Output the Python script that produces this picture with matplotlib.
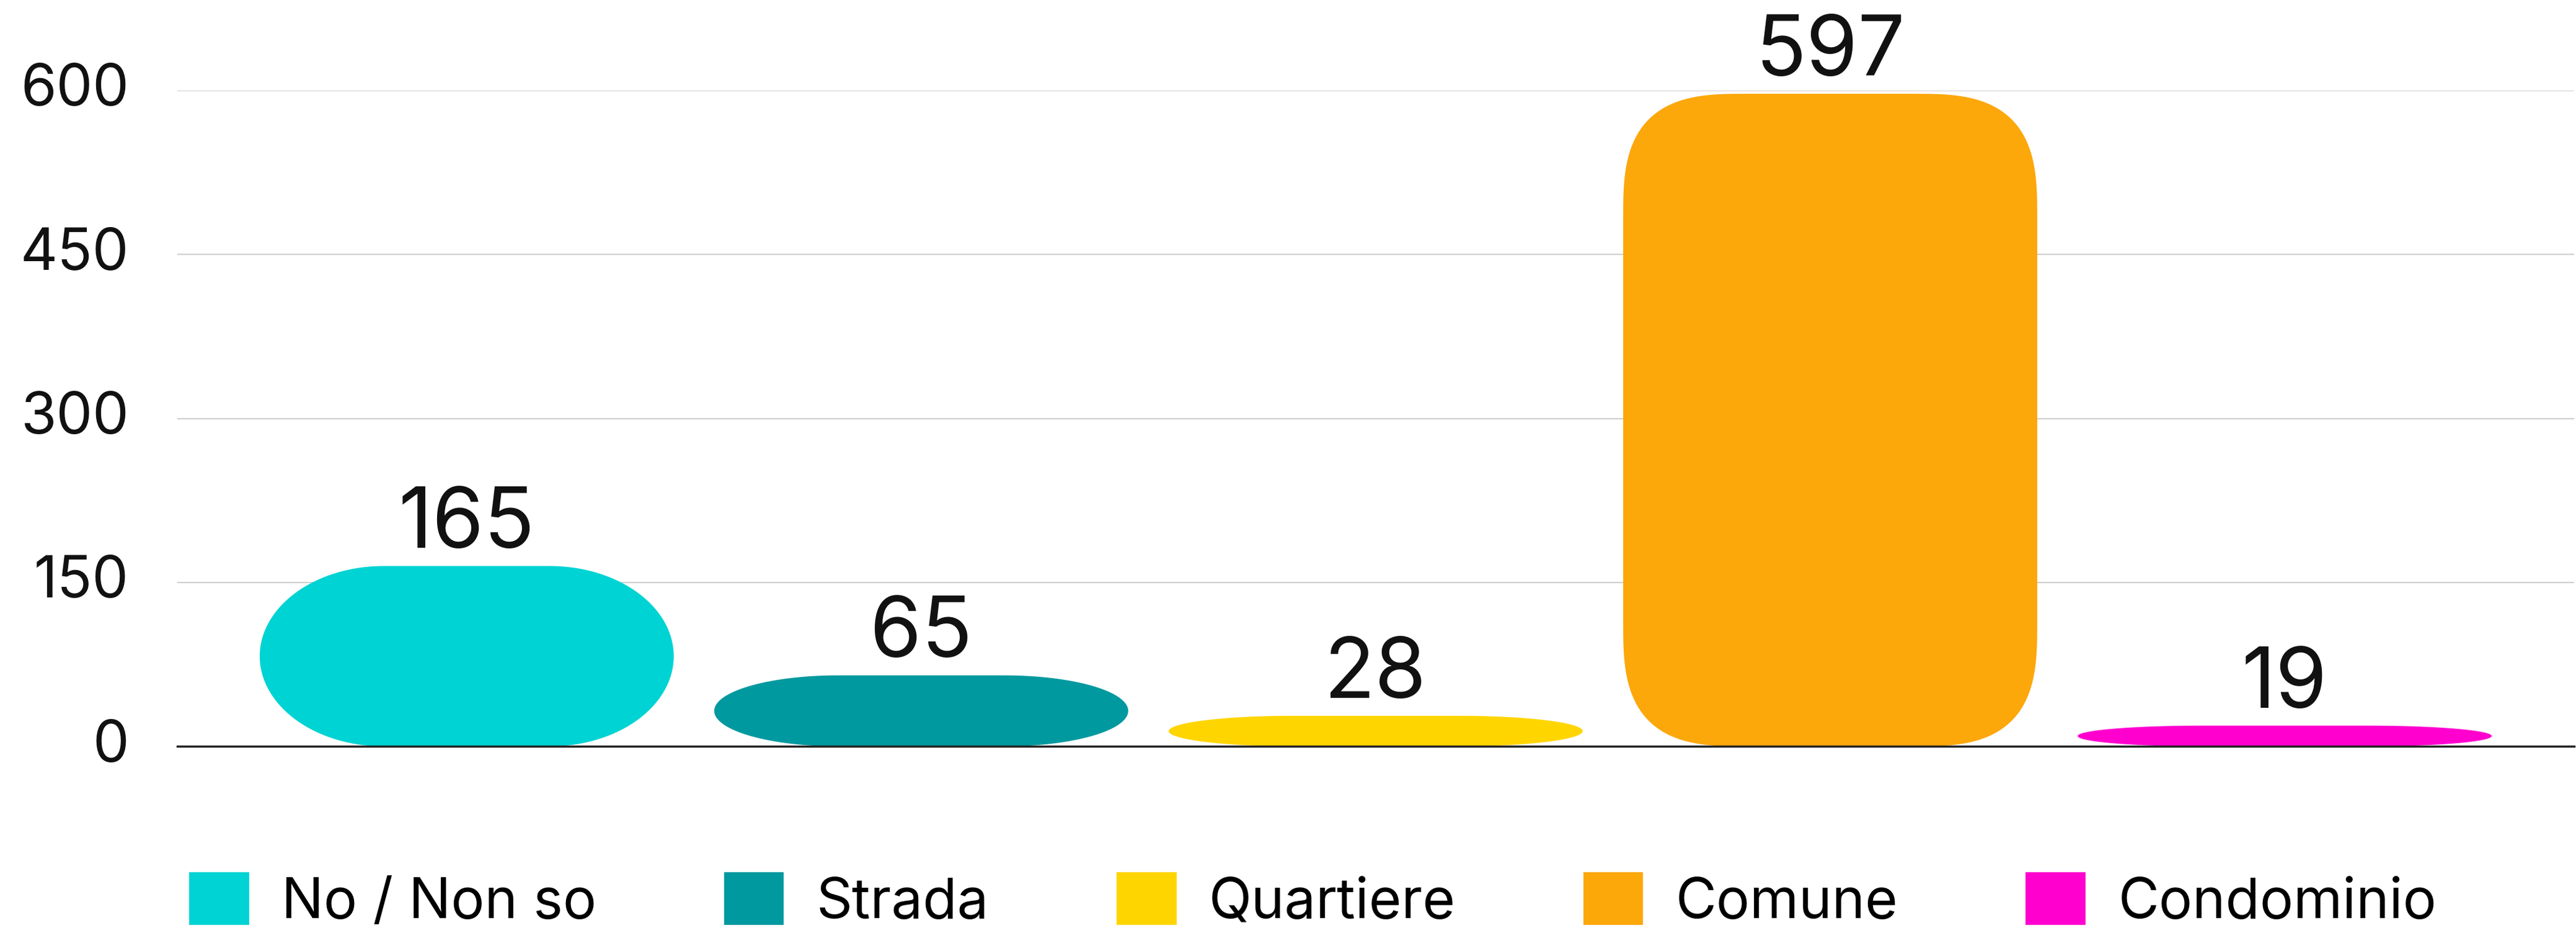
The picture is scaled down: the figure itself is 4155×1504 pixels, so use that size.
import numpy as np
import matplotlib
matplotlib.use("Agg")
import matplotlib.pyplot as plt
from matplotlib.path import Path
from matplotlib.patches import PathPatch, Patch

plt.rcParams['font.family'] = ['Inter', 'DejaVu Sans']

categories = ["No / Non so", "Strada", "Quartiere", "Comune", "Condominio"]
values = [165, 65, 28, 597, 19]
colors = ["#00D3D3", "#00999F", "#FFD500", "#FCA70A", "#FF00CF"]
yticks = [0, 150, 300, 450, 600]

DPI = 100
fig = plt.figure(figsize=(41.55, 15.04), dpi=DPI)
ax = fig.add_axes([0.0688, 0.200, 0.9305, 0.703])
ax.set_xlim(-0.637, 4.637)
ax.set_ylim(0, 600)

bar_width = 0.911
corner_px = 200.0      # corner radius in pixels

fig.canvas.draw()
x0p, y0p = ax.transData.transform((0, 0))
x1p, y1p = ax.transData.transform((1, 100))
px_per_x = x1p - x0p
px_per_y = (y1p - y0p) / 100.0


def rounded_bar(xc, h, w):
    rx = min(corner_px / px_per_x, w / 2)
    ry_full = corner_px / px_per_y
    ry = min(ry_full, h / 2)
    # full-size corners are squircle-like, squeezed ones become elliptic
    ratio = ry / ry_full
    n = 2.0 + float(np.clip((ratio - 0.75) / 0.25, 0, 1))
    left, right = xc - w / 2, xc + w / 2
    t = np.linspace(0, np.pi / 2, 50)
    c = np.cos(t) ** (2 / n)
    s = np.sin(t) ** (2 / n)
    pts = []
    cx, cy = right - rx, h - ry
    pts += list(zip(cx + rx * c, cy + ry * s))
    cx, cy = left + rx, h - ry
    pts += list(zip(cx - rx * s, cy + ry * c))
    cx, cy = left + rx, ry
    pts += list(zip(cx - rx * c, cy - ry * s))
    cx, cy = right - rx, ry
    pts += list(zip(cx + rx * s, cy - ry * c))
    pts.append(pts[0])
    codes = [Path.MOVETO] + [Path.LINETO] * (len(pts) - 2) + [Path.CLOSEPOLY]
    return Path(pts, codes)


for i, (v, col) in enumerate(zip(values, colors)):
    patch = PathPatch(rounded_bar(i, v, bar_width), facecolor=col,
                      edgecolor='none', zorder=3)
    ax.add_patch(patch)
    ax.annotate(str(v), xy=(i, v), xytext=(0, 21), textcoords='offset points',
                ha='center', va='baseline', fontsize=97, color='#111111',
                zorder=4, annotation_clip=False)

ax.set_yticks(yticks)
ax.set_yticklabels([str(t) for t in yticks])
ax.set_xticks([])
ax.tick_params(axis='y', length=0, pad=56, labelsize=67, labelcolor='#111111')
for t in ax.get_yticklabels():
    t.set_verticalalignment('center')

ax.grid(axis='y', color='#D0D0D0', linewidth=1.6, zorder=0)
ax.set_axisbelow(True)
for sp in ['top', 'right', 'left']:
    ax.spines[sp].set_visible(False)
ax.spines['bottom'].set_color('#222222')
ax.spines['bottom'].set_linewidth(2.5)
ax.spines['bottom'].set_zorder(5)

handles = [Patch(facecolor=c, edgecolor='none') for c in colors]
fig.legend(handles, categories, loc='center left',
           bbox_to_anchor=(0.0734, 0.0346), ncol=5, frameon=False,
           fontsize=65, handlelength=1.07, handleheight=1.07,
           handletextpad=0.58, columnspacing=2.28, borderpad=0,
           borderaxespad=0)

fig.savefig("out.png", dpi=DPI, facecolor='white')
